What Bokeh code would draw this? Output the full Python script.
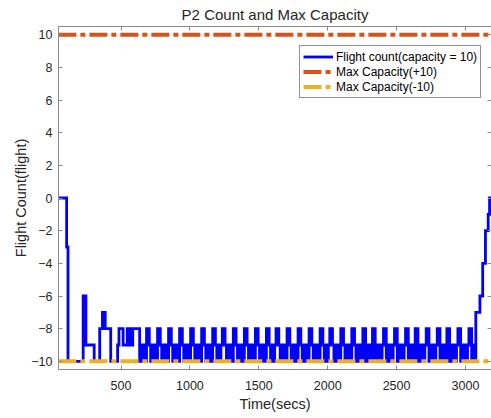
from bokeh.plotting import figure
from bokeh.models import Range1d, LinearAxis, Legend, LegendItem, ColumnDataSource
from bokeh.embed import file_html
from bokeh.resources import INLINE

# ---------------- data ----------------
t_start = 45          # first sample time (secs)
t_step = 10           # sampling interval (secs)

count_start = [0, 0, 0, 0, 0, 0, -3,
               -10, -10, -10, -10, -10, -10, -10, -10, -10, -10, -10,
               -6, -6,
               -9, -9, -9, -9, -9, -9,
               -10, -10, -10, -10,
               -8, -8, -7, -7, -8, -8, -8, -8,
               -10, -10, -10, -10, -10,
               -9, -8, -8, -8, -9, -9, -9, -8, -8, -9, -9, -8, -8, -8, -8, -8,
               -10, -9, -10, -9, -10]

count_band = [
    -8, -8, -9, -10, -9, -9, -10, -10,    # 685
    -8, -8, -9, -10, -9, -9, -10, -10,    # 765
    -8, -8, -9, -10, -9, -9, -10, -10,    # 845
    -8, -8, -9, -10, -9, -9, -10, -10,    # 925
    -8, -8, -9, -10, -9, -9, -10, -10,    # 1005
    -8, -8, -9, -10, -9, -10, -9, -10,    # 1085
    -8, -8, -9, -10, -9, -10, -9,         # 1165
    -8, -8, -9, -10, -9, -10, -9, -10,    # 1235
    -8, -8, -9, -10, -9, -10, -9, -10,    # 1315
    -8, -8, -9, -10, -9, -10, -9, -10,    # 1395
    -8, -8, -9, -10, -9, -10, -9, -10,    # 1475
    -8, -8, -9, -10, -9, -10, -9,         # 1555
    -8, -8, -9, -10, -9, -10, -9, -10,    # 1625
    -8, -8, -9, -10, -9, -10, -9, -10,    # 1705
    -8, -8, -9, -10, -9, -10, -9, -10,    # 1785
    -8, -8, -9, -10, -9, -10, -9, -10,    # 1865
    -8, -8, -9, -10, -9, -10, -9,         # 1945
    -8, -8, -9, -10, -9, -10, -9, -10,    # 2015
    -8, -8, -9, -10, -9, -10, -9, -10,    # 2095
    -8, -8, -9, -10, -9, -10, -9, -10,    # 2175
    -8, -8, -10, -9, -10, -9, -10,        # 2255
    -8, -8, -10, -9, -10, -9, -10, -9,    # 2325
    -8, -8, -10, -9, -10, -9, -10, -9,    # 2405
    -8, -8, -10, -9, -10, -9, -10, -9,    # 2485
    -8, -8, -10, -9, -10, -9, -10,        # 2565
    -8, -8, -10, -9, -10, -9, -10, -9,    # 2635
    -8, -8, -10, -9, -10, -9, -10, -9,    # 2715
    -8, -8, -10, -9, -10, -9, -10,        # 2795
    -8, -8, -10, -9, -10, -9, -10, -9,    # 2865
    -8, -8, -10, -9, -10, -9, -10, -9,    # 2945
]

count_end = [-8, -8, -10, -9, -10,
             -7, -7, -7, -6, -6, -4, -4, -2, -2, -1, 0, 0, 0]

flight_count = count_start + count_band + count_end
time_secs = [t_start + t_step * i for i in range(len(flight_count))]

max_cap_plus = 10
max_cap_minus = -10

x_ticks = [500, 1000, 1500, 2000, 2500, 3000]
y_ticks = [-10, -8, -6, -4, -2, 0, 2, 4, 6, 8, 10]
x_limits = (46, 3189)
y_limits = (-10.5, 10.5)

labels = ["Flight count(capacity = 10)", "Max Capacity(+10)", "Max Capacity(-10)"]

# ---------------- styling ----------------
FONT = "Liberation Sans"
TXT = "#262626"
AX = "#8a8a8a"
BLUE = "#0000FF"
RED = "#D95319"
YELLOW = "#EDB120"

src = ColumnDataSource(dict(t=time_secs, c=flight_count,
                            up=[max_cap_plus] * len(time_secs),
                            lo=[max_cap_minus] * len(time_secs)))

p = figure(frame_width=433, frame_height=343, output_backend="svg",
           toolbar_location=None,
           x_range=Range1d(*x_limits), y_range=Range1d(*y_limits),
           min_border_left=58, min_border_right=0, min_border_top=26,
           min_border_bottom=49, title="P2 Count and Max Capacity")
p.background_fill_color = "white"
p.border_fill_color = "white"
p.outline_line_color = None
p.grid.visible = False

p.title.align = "center"
p.title.text_font = FONT
p.title.text_font_size = "15px"
p.title.text_font_style = "normal"
p.title.text_color = TXT
p.title.standoff = 7

r_blue = p.step("t", "c", source=src, mode="after", line_color=BLUE,
                line_width=2.8, line_join="miter")
r_red = p.line("t", "up", source=src, line_color=RED, line_width=4,
               line_dash="18 4 5 4")
r_yel = p.line("t", "lo", source=src, line_color=YELLOW, line_width=4,
               line_dash="18 4 5 4")

def style_axis(ax, ticks):
    ax.ticker = ticks
    ax.major_tick_in = 4
    ax.major_tick_out = 0
    ax.minor_tick_in = 0
    ax.minor_tick_out = 0
    ax.axis_line_color = AX
    ax.major_tick_line_color = AX
    ax.major_label_text_font = FONT
    ax.major_label_text_font_size = "12.5px"
    ax.major_label_text_color = TXT
    ax.axis_label_text_font = FONT
    ax.axis_label_text_font_size = "14.5px"
    ax.axis_label_text_font_style = "normal"
    ax.axis_label_text_color = TXT

style_axis(p.xaxis[0], x_ticks)
style_axis(p.yaxis[0], y_ticks)
p.xaxis.axis_label = "Time(secs)"
p.yaxis.axis_label = "Flight Count(flight)"
p.xaxis.major_label_standoff = 11
p.xaxis.axis_label_standoff = 3
p.yaxis.major_label_standoff = 6
p.yaxis.axis_label_standoff = -1

top_ax = LinearAxis()
style_axis(top_ax, x_ticks)
top_ax.major_label_text_color = None
top_ax.major_label_standoff = 0
p.add_layout(top_ax, "above")

right_ax = LinearAxis()
style_axis(right_ax, y_ticks)
right_ax.major_label_text_color = None
right_ax.major_label_standoff = 0
right_ax.axis_line_color = None
p.add_layout(right_ax, "right")

legend = Legend(items=[LegendItem(label=labels[0], renderers=[r_blue]),
                       LegendItem(label=labels[1], renderers=[r_red]),
                       LegendItem(label=labels[2], renderers=[r_yel])],
                location=(241, 271))
legend.label_text_font = FONT
legend.label_text_font_size = "12px"
legend.label_text_color = "#000000"
legend.glyph_width = 30
legend.glyph_height = 15
legend.label_height = 15
legend.label_standoff = 3
legend.padding = 3
legend.spacing = 0
legend.margin = 0
legend.border_line_color = "#262626"
legend.border_line_width = 1
legend.background_fill_color = "white"
legend.background_fill_alpha = 1
p.add_layout(legend)

open("out.html", "w").write(file_html(p, INLINE))
